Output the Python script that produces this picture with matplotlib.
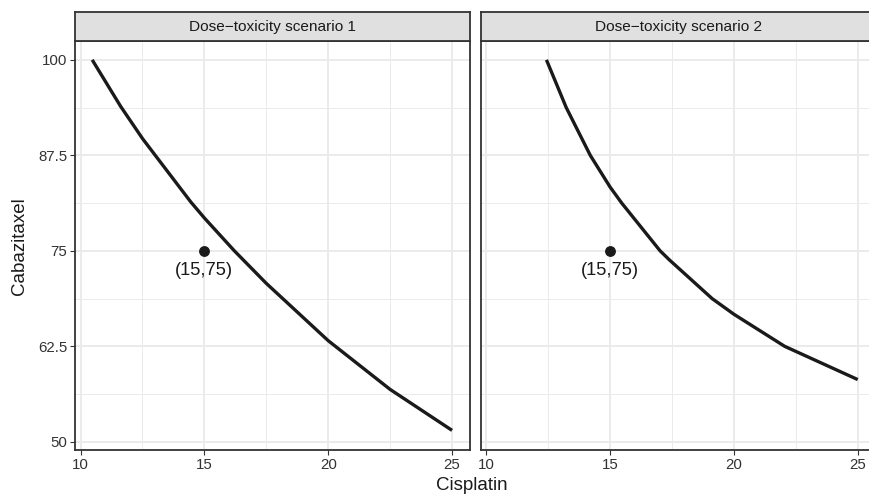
import matplotlib.pyplot as plt

plt.rcParams['font.family'] = ['Liberation Sans', 'DejaVu Sans']

LINE_COLOR = '#1a1a1a'
GRID_COLOR = '#ebebeb'
BORDER_COLOR = '#333333'
STRIP_FILL = '#e0e0e0'

panel_titles = ['Dose\u2212toxicity scenario 1', 'Dose\u2212toxicity scenario 2']

# curve points
cis_1 = [10.47, 11.62, 12.5, 14.45, 15.0, 16.21, 17.5, 20.0, 22.5, 25.0]
cab_1 = [100.0, 93.9, 89.7, 81.4, 79.3, 75.0, 70.74, 63.24, 56.86, 51.5]

cis_2 = [12.43, 13.23, 14.2, 15.0, 15.47, 17.02, 17.4, 19.12, 20.0, 22.05, 25.0]
cab_2 = [100.0, 93.75, 87.5, 83.35, 81.25, 75.0, 73.8, 68.75, 66.7, 62.5, 58.15]

point_x = 15
point_y = 75
point_label = '(15,75)'

x_ticks = [10, 15, 20, 25]
x_minor = [12.5, 17.5, 22.5]
y_ticks = [50, 62.5, 75, 87.5, 100]
y_tick_labels = ['50', '62.5', '75', '87.5', '100']
y_minor = [56.25, 68.75, 81.25, 93.75]

curves = [(cis_1, cab_1), (cis_2, cab_2)]

W, H = 870, 494
fig = plt.figure(figsize=(W / 100, H / 100), dpi=100)

panel_lefts = [75, 480.7]
panel_w = 395
panel_top = 41.3
panel_bottom = 450
strip_top = 11.7

x_lo, x_hi = 9.775, 25.725
y_lo, y_hi = 48.93, 102.43

for i, (left, (xs, ys)) in enumerate(zip(panel_lefts, curves)):
    ax = fig.add_axes([left / W, (H - panel_bottom) / H,
                       panel_w / W, (panel_bottom - panel_top) / H])
    ax.set_xlim(x_lo, x_hi)
    ax.set_ylim(y_lo, y_hi)

    for v in x_minor:
        ax.axvline(v, color=GRID_COLOR, lw=0.7, zorder=0)
    for v in y_minor:
        ax.axhline(v, color=GRID_COLOR, lw=0.7, zorder=0)
    for v in x_ticks:
        ax.axvline(v, color=GRID_COLOR, lw=1.4, zorder=0)
    for v in y_ticks:
        ax.axhline(v, color=GRID_COLOR, lw=1.4, zorder=0)

    ax.plot(xs, ys, color=LINE_COLOR, lw=2.4, solid_capstyle='butt',
            solid_joinstyle='round', zorder=3)
    ax.plot([point_x], [point_y], 'o', color=LINE_COLOR, markersize=6.8, zorder=4)
    ax.text(point_x, point_y - 1.5, point_label, ha='center', va='top',
            fontsize=13.2, color='#1a1a1a', zorder=4)

    ax.set_xticks(x_ticks)
    ax.set_xticklabels([str(t) for t in x_ticks])
    ax.set_yticks(y_ticks)
    if i == 0:
        ax.set_yticklabels(y_tick_labels)
        ax.tick_params(axis='y', length=3.5, width=0.8, color=BORDER_COLOR,
                       labelsize=10.8, labelcolor='#333333', pad=2)
    else:
        ax.tick_params(axis='y', length=0, labelleft=False)
    ax.tick_params(axis='x', length=3.5, width=0.8, color=BORDER_COLOR,
                   labelsize=10.8, labelcolor='#333333', pad=2)

    for s in ax.spines.values():
        s.set_color(BORDER_COLOR)
        s.set_linewidth(1.3)

    # facet strip
    sax = fig.add_axes([left / W, (H - panel_top) / H,
                        panel_w / W, (panel_top - strip_top) / H])
    sax.set_xticks([])
    sax.set_yticks([])
    sax.set_facecolor(STRIP_FILL)
    for s in sax.spines.values():
        s.set_color(BORDER_COLOR)
        s.set_linewidth(1.3)
    sax.text(0.5, 0.5, panel_titles[i], ha='center', va='center',
             fontsize=11.1, color='#1a1a1a', transform=sax.transAxes)

fig.text(20 / W, 1 - 246 / H, 'Cabazitaxel', rotation=90, ha='center',
         va='center', fontsize=13.5, color='#1a1a1a')
fig.text(472 / W, 1 - 485 / H, 'Cisplatin', ha='center', va='center',
         fontsize=13.5, color='#1a1a1a')

fig.savefig('out.png', dpi=100)
